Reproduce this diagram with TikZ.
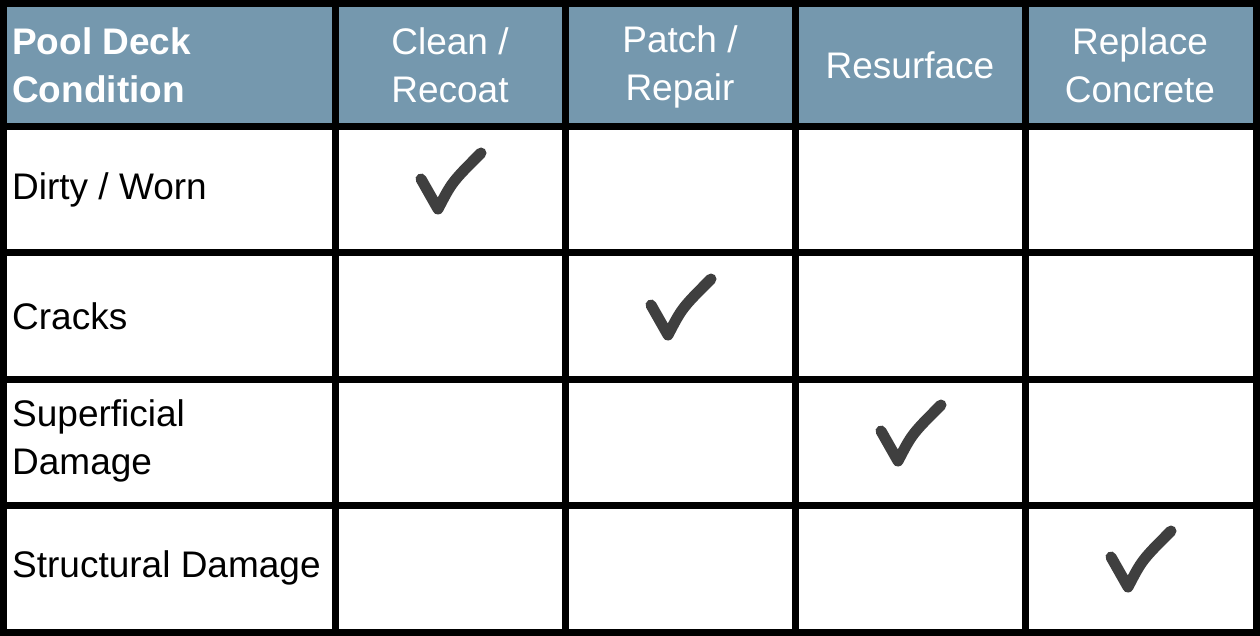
\documentclass[tikz,border=0pt]{standalone}
\usepackage{fontspec}
\setmainfont{Liberation Sans}
\definecolor{hdr}{HTML}{7598AE}
\definecolor{chk}{HTML}{3F3F3F}
\begin{document}
\begin{tikzpicture}[x=1pt,y=-1pt,
  cell/.style={font=\fontsize{37}{48}\selectfont,align=left,anchor=west,inner sep=0pt},
  hcell/.style={font=\fontsize{37}{48}\selectfont,text=white,align=center,inner sep=0pt},
  chkmark/.style={draw=chk,line width=11pt,line cap=round,line join=round}]
\useasboundingbox (0,0) rectangle (1260,636);
\fill[white] (0,0) rectangle (1260,636);
\fill[hdr] (3.5,3.5) rectangle (1256.5,127);
\foreach \y in {3.5,127,253,379,505,632.5} \draw[line width=7pt] (0,\y) -- (1260,\y);
\foreach \x in {3.5,335,565,795,1025,1256.5} \draw[line width=7pt] (\x,0) -- (\x,636);
\node[hcell,anchor=west,align=left,font=\fontsize{37}{48}\selectfont\bfseries] (h0) at (12,65) {Pool Deck\\Condition};
\node[hcell] (h1) at (450,65) {Clean /\\Recoat};
\node[hcell] (h2) at (680,67) {Patch /\\Repair};
\node[hcell] (h3) at (910,65) {Resurface};
\node[hcell] (h4) at (1140,65) {Replace\\Concrete};
\node[cell] (r1) at (12,190) {Dirty / Worn};
\node[cell] (r2) at (12,316) {Cracks};
\node[cell] (r3) at (12,441) {Superficial\\Damage};
\node[cell] (r4) at (12,568) {Structural Damage};
\foreach \cx/\cy in {450/187,680/313,910/439,1140/565}
  \draw[chkmark] (\cx-29,\cy-8) -- (\cx-12,\cy+22) .. controls (\cx+2,\cy-5) .. (\cx+31,\cy-34);
\end{tikzpicture}
\end{document}
